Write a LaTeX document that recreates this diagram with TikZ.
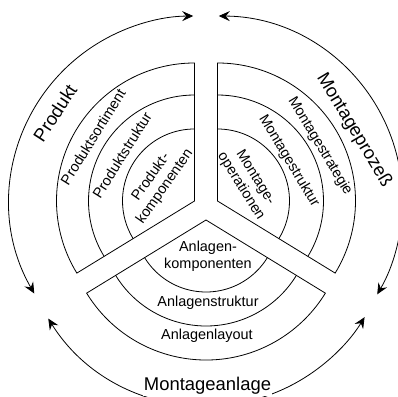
\documentclass[tikz,border=0pt]{standalone}
\usepackage{fontspec}
\setmainfont{Liberation Sans}
\usetikzlibrary{arrows.meta,calc}
\begin{document}
\begin{tikzpicture}[x=1bp,y=1bp,
  sector/.style={line width=0.8bp},
  tipshape/.style={},
  cycarrow/.style={line width=0.8bp,
    {Stealth[length=11bp,width=10bp,inset=4bp]}-{Stealth[length=11bp,width=10bp,inset=4bp]}},
  small/.style={font=\fontsize{14.5}{17}\selectfont,inner sep=1bp,align=center},
  big/.style={font=\fontsize{18.5}{22}\selectfont,inner sep=1bp}]
\useasboundingbox (0,0) rectangle (398,397);
\clip (0,0) rectangle (398,397);

% centres of the three exploded sectors
\coordinate (Lc) at (194.5,196);
\coordinate (Rc) at (217.5,196);
\coordinate (Bc) at (206,177);

% product sector
\draw[sector] (Lc) -- ++(90:138) arc[start angle=90,end angle=211.5,radius=138] -- cycle;
\draw[sector] ($(Lc)+(90:106)$) arc[start angle=90,end angle=211.5,radius=106];
\draw[sector] ($(Lc)+(90:72)$) arc[start angle=90,end angle=211.5,radius=72];

% process sector
\draw[sector] (Rc) -- ++(90:138) arc[start angle=90,end angle=-31.5,radius=138] -- cycle;
\draw[sector] ($(Rc)+(90:106)$) arc[start angle=90,end angle=-31.5,radius=106];
\draw[sector] ($(Rc)+(90:72)$) arc[start angle=90,end angle=-31.5,radius=72];

% plant sector
\draw[sector] (Bc) -- ++(211.5:140) arc[start angle=211.5,end angle=328.5,radius=140] -- cycle;
\draw[sector] ($(Bc)+(211.5:106)$) arc[start angle=211.5,end angle=328.5,radius=106];
\draw[sector] ($(Bc)+(211.5:72)$) arc[start angle=211.5,end angle=328.5,radius=72];

% outer double arrows
\coordinate (pa) at ($(Lc)+(210:185)$);
\coordinate (ma) at ($(Rc)+(89.6:185)$);
\coordinate (aa) at ($(Bc)+(212:186)$);
\draw[cycarrow] (pa) arc[start angle=210,end angle=90.4,radius=185];
\draw[cycarrow] (ma) arc[start angle=89.6,end angle=-30.3,radius=185];
\draw[cycarrow] (aa) arc[start angle=212,end angle=328.5,radius=186];

% labels
\node[big,rotate=57] (produkt) at (55,284) {Produkt};
\node[small,rotate=58] (psort) at (93,260) {Produktsortiment};
\node[small,rotate=58] (pstruk) at (122,242) {Produktstruktur};
\node[small,rotate=55] (pkomp) at (158,215) {Produkt-\\komponenten};

\node[big,rotate=-59] (mproz) at (354,267) {Montageprozeß};
\node[small,rotate=-59] (mstrat) at (320,251) {Montagestrategie};
\node[small,rotate=-59] (mstruk) at (289,236) {Montagestruktur};
\node[small,rotate=-58] (mop) at (248,215) {Montage-\\operationen};

\node[small] (akomp) at (208,141) {Anlagen-\\komponenten};
\node[small] (astruk) at (208,94) {Anlagenstruktur};
\node[small] (alay) at (207,61) {Anlagenlayout};
\node[big,fill=white] (manl) at (207.5,11) {Montageanlage};
\end{tikzpicture}
\end{document}
